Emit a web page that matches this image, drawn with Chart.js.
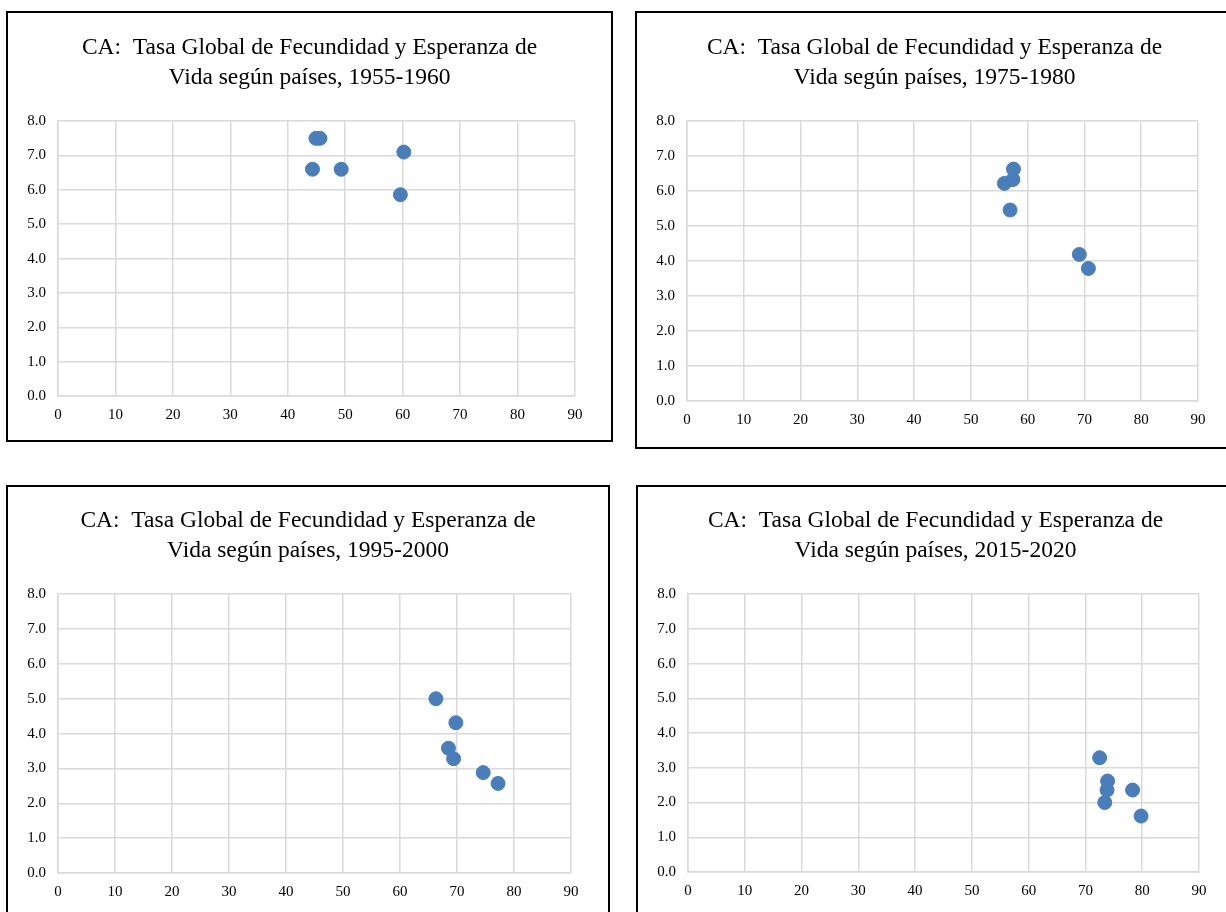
<!DOCTYPE html>
<html>
<head>
<meta charset="utf-8">
<script src="https://cdn.jsdelivr.net/npm/chart.js@4"></script>
<style>
  body { margin: 0; background: #fff; overflow: hidden; width: 1226px; height: 912px; position: relative; }
  .panel { position: absolute; border: 2px solid #000; background: #fff; }
  .panel canvas { display: block; }
</style>
</head>
<body>
<div class="panel" style="left:6px; top:11px; width:603px; height:427px;"><canvas id="c1" width="603" height="427"></canvas></div>
<div class="panel" style="left:635px; top:11px; width:595px; height:434px;"><canvas id="c2" width="595" height="434"></canvas></div>
<div class="panel" style="left:6px; top:485px; width:600px; height:440px;"><canvas id="c3" width="600" height="425"></canvas></div>
<div class="panel" style="left:636px; top:485px; width:595px; height:440px;"><canvas id="c4" width="595" height="425"></canvas></div>
<script>
// Esperanza de vida (x) y tasa global de fecundidad (y) por periodo
const periodos = ['1955-1960', '1975-1980', '1995-2000', '2015-2020'];

const vida1955 = [44.9, 45.6, 44.3, 49.3, 60.2, 59.6];
const tgf1955  = [7.5, 7.5, 6.6, 6.6, 7.1, 5.86];

const vida1975 = [57.5, 57.4, 55.9, 56.9, 69.1, 70.7];
const tgf1975  = [6.63, 6.33, 6.22, 5.46, 4.19, 3.79];

const vida1995 = [66.3, 69.8, 68.5, 69.4, 74.6, 77.2];
const tgf1995  = [5.0, 4.31, 3.58, 3.28, 2.88, 2.57];

const vida2015 = [72.5, 73.9, 73.8, 73.4, 78.3, 79.8];
const tgf2015  = [3.29, 2.62, 2.36, 2.0, 2.36, 1.61];

const xTicks = [0, 10, 20, 30, 40, 50, 60, 70, 80, 90];
const yTicks = [0, 1, 2, 3, 4, 5, 6, 7, 8];

const fuente = 'Liberation Serif';
const gris = '#d9d9d9';
const azul = '#4a7ebb';

function hacerGrafico(id, vida, tgf, periodo, arriba, derecha, altoX) {
  const puntos = vida.map((v, i) => ({ x: v, y: tgf[i] }));
  new Chart(document.getElementById(id), {
    type: 'scatter',
    data: {
      datasets: [{
        data: puntos,
        backgroundColor: azul,
        borderColor: azul,
        pointRadius: 7,
        pointHoverRadius: 7
      }]
    },
    options: {
      responsive: false,
      animation: false,
      plugins: {
        legend: { display: false },
        tooltip: { enabled: false },
        title: {
          display: true,
          text: ['CA:  Tasa Global de Fecundidad y Esperanza de', 'Vida según países, ' + periodo],
          color: '#000',
          font: { family: fuente, size: 23.5, weight: 'normal', lineHeight: 1.28 },
          padding: { top: arriba, bottom: 28 }
        }
      },
      scales: {
        x: {
          type: 'linear',
          min: 0,
          max: 90,
          afterBuildTicks: s => { s.ticks = xTicks.map(v => ({ value: v })); },
          afterFit: s => { s.height = altoX; },
          grid: { color: gris, lineWidth: 1.5, drawTicks: false },
          border: { color: gris, width: 1.5 },
          ticks: { color: '#000', font: { family: fuente, size: 15 }, padding: 10, maxRotation: 0 }
        },
        y: {
          type: 'linear',
          min: 0,
          max: 8,
          afterBuildTicks: s => { s.ticks = yTicks.map(v => ({ value: v })); },
          afterFit: s => { s.width = 50; },
          grid: { color: gris, lineWidth: 1.5, drawTicks: false },
          border: { color: gris, width: 1.5 },
          ticks: { color: '#000', font: { family: fuente, size: 15 }, padding: 12, callback: v => v.toFixed(1) }
        },
        // eje vacío a la derecha: solo reserva el margen, así el título queda centrado en el recuadro
        margen: {
          type: 'linear',
          position: 'right',
          afterFit: s => { s.width = derecha; },
          grid: { display: false },
          border: { display: false },
          ticks: { display: false }
        }
      }
    }
  });
}

hacerGrafico('c1', vida1955, tgf1955, periodos[0], 20, 36, 44);
hacerGrafico('c2', vida1975, tgf1975, periodos[1], 20, 34, 46);
hacerGrafico('c3', vida1995, tgf1995, periodos[2], 19, 37, 39);
hacerGrafico('c4', vida2015, tgf2015, periodos[3], 19, 34, 40);
</script>
</body>
</html>
